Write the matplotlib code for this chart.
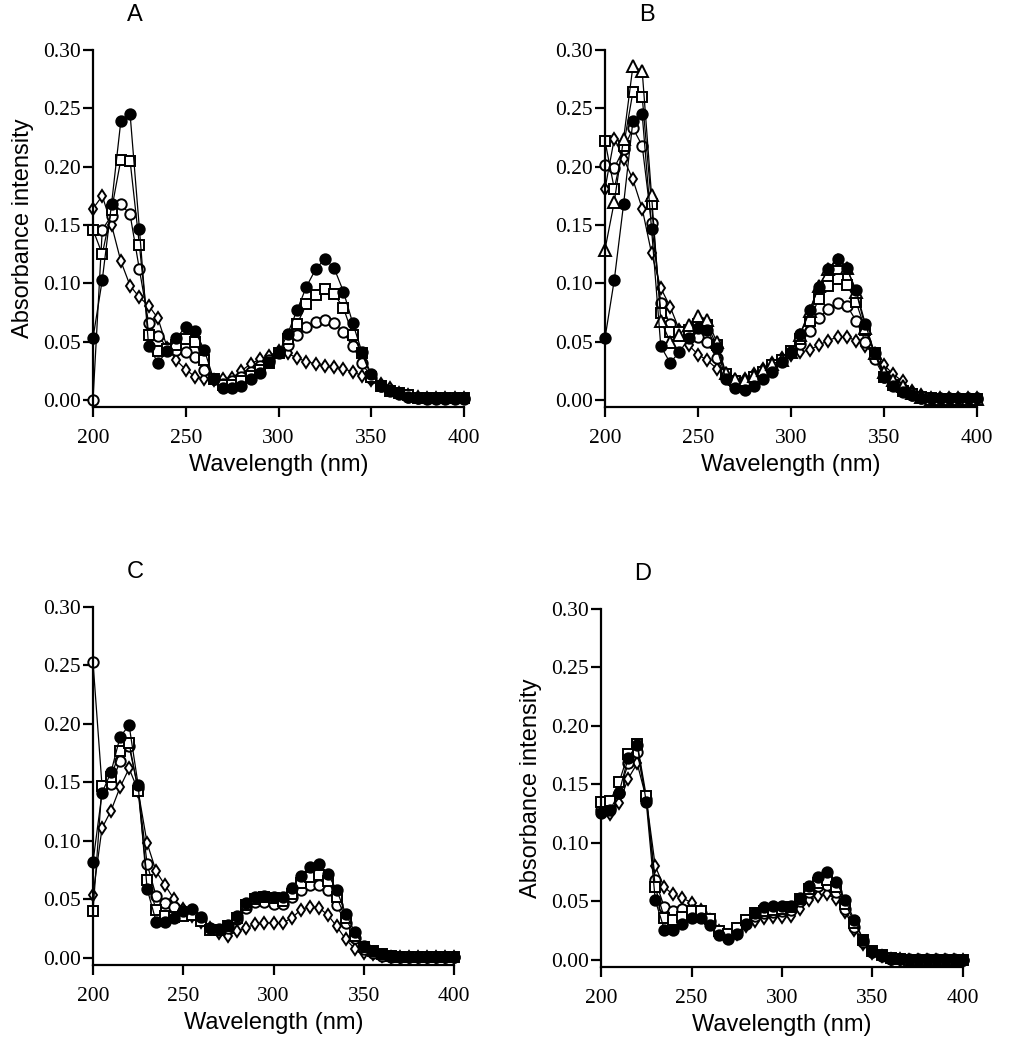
import matplotlib
matplotlib.use("Agg")
import matplotlib.pyplot as plt
import numpy as np

# длины волн, нм
wl = np.arange(200, 405, 5)

# ---- Panel A ----
A_filled = [0.053, 0.103, 0.168, 0.239, 0.245, 0.147, 0.046, 0.032, 0.042, 0.053,
            0.063, 0.059, 0.043, 0.018, 0.010, 0.010, 0.012, 0.018, 0.023, 0.033,
            0.040, 0.057, 0.077, 0.097, 0.112, 0.121, 0.113, 0.093, 0.066, 0.041,
            0.022, 0.012, 0.009, 0.006, 0.003, 0.002, 0.002, 0.002, 0.002, 0.002,
            0.002]
A_square = [0.146, 0.125, 0.163, 0.206, 0.205, 0.133, 0.056, 0.042, 0.044, 0.047,
            0.052, 0.050, 0.034, 0.018, 0.013, 0.013, 0.016, 0.021, 0.026, 0.032,
            0.040, 0.052, 0.065, 0.082, 0.090, 0.095, 0.091, 0.079, 0.056, 0.040,
            0.020, 0.012, 0.008, 0.006, 0.004, 0.002, 0.002, 0.002, 0.002, 0.002,
            0.002]
A_circle = [0.000, 0.146, 0.158, 0.168, 0.159, 0.112, 0.066, 0.055, 0.045, 0.043,
            0.041, 0.037, 0.026, 0.018, 0.014, 0.016, 0.020, 0.024, 0.029, 0.034,
            0.041, 0.047, 0.056, 0.063, 0.067, 0.069, 0.066, 0.058, 0.046, 0.032,
            0.019, 0.012, 0.008, 0.005, 0.003, 0.002, 0.001, 0.001, 0.001, 0.001,
            0.001]
A_diamond = [0.164, 0.175, 0.150, 0.119, 0.098, 0.088, 0.081, 0.070, 0.045, 0.034,
             0.026, 0.020, 0.018, 0.017, 0.018, 0.019, 0.025, 0.031, 0.035, 0.038,
             0.042, 0.040, 0.036, 0.033, 0.031, 0.029, 0.028, 0.027, 0.024, 0.021,
             0.017, 0.014, 0.010, 0.006, 0.004, 0.003, 0.002, 0.002, 0.002, 0.002,
             0.002]

# ---- Panel B ----
B_filled = [0.053, 0.103, 0.168, 0.239, 0.245, 0.147, 0.046, 0.032, 0.041, 0.053,
            0.062, 0.060, 0.045, 0.018, 0.010, 0.009, 0.012, 0.018, 0.024, 0.033,
            0.041, 0.057, 0.077, 0.097, 0.112, 0.121, 0.113, 0.094, 0.065, 0.040,
            0.020, 0.012, 0.007, 0.004, 0.002, 0.002, 0.002, 0.002, 0.002, 0.002,
            0.002]
B_square = [0.222, 0.181, 0.218, 0.264, 0.260, 0.168, 0.075, 0.058, 0.058, 0.060,
            0.065, 0.064, 0.047, 0.022, 0.016, 0.015, 0.020, 0.024, 0.030, 0.034,
            0.042, 0.052, 0.068, 0.087, 0.098, 0.104, 0.099, 0.084, 0.060, 0.040,
            0.020, 0.013, 0.008, 0.005, 0.003, 0.002, 0.001, 0.001, 0.001, 0.001,
            0.001]
B_circle = [0.201, 0.199, 0.215, 0.233, 0.218, 0.152, 0.083, 0.065, 0.058, 0.055,
            0.054, 0.050, 0.036, 0.020, 0.015, 0.015, 0.020, 0.024, 0.030, 0.034,
            0.041, 0.048, 0.059, 0.070, 0.078, 0.083, 0.081, 0.068, 0.050, 0.035,
            0.020, 0.013, 0.008, 0.004, 0.002, 0.001, 0.001, 0.001, 0.001, 0.001,
            0.001]
B_diamond = [0.181, 0.224, 0.207, 0.189, 0.164, 0.126, 0.096, 0.080, 0.060, 0.047,
             0.039, 0.034, 0.027, 0.022, 0.017, 0.018, 0.022, 0.027, 0.032, 0.036,
             0.039, 0.041, 0.043, 0.047, 0.051, 0.054, 0.054, 0.051, 0.046, 0.039,
             0.030, 0.022, 0.016, 0.008, 0.004, 0.002, 0.002, 0.002, 0.002, 0.002,
             0.002]
B_triangle = [0.129, 0.170, 0.224, 0.286, 0.282, 0.176, 0.068, 0.050, 0.056, 0.064,
              0.072, 0.069, 0.050, 0.023, 0.018, 0.017, 0.021, 0.026, 0.031, 0.034,
              0.041, 0.056, 0.076, 0.098, 0.112, 0.120, 0.113, 0.093, 0.062, 0.040,
              0.024, 0.017, 0.012, 0.006, 0.003, 0.001, 0.001, 0.001, 0.001, 0.001,
              0.001]

# ---- Panel C ----
C_filled = [0.082, 0.141, 0.159, 0.189, 0.199, 0.148, 0.059, 0.031, 0.031, 0.034,
            0.040, 0.042, 0.035, 0.026, 0.025, 0.028, 0.036, 0.047, 0.052, 0.053,
            0.052, 0.052, 0.060, 0.070, 0.078, 0.080, 0.072, 0.058, 0.038, 0.022,
            0.010, 0.006, 0.003, 0.002, 0.001, 0.001, 0.001, 0.001, 0.001, 0.001,
            0.001]
C_square = [0.040, 0.147, 0.155, 0.177, 0.184, 0.143, 0.067, 0.041, 0.036, 0.035,
            0.036, 0.037, 0.032, 0.024, 0.024, 0.027, 0.034, 0.045, 0.050, 0.052,
            0.051, 0.049, 0.055, 0.064, 0.069, 0.071, 0.066, 0.052, 0.034, 0.019,
            0.009, 0.006, 0.003, 0.002, 0.001, 0.001, 0.001, 0.001, 0.001, 0.001,
            0.001]
C_circle = [0.253, 0.147, 0.149, 0.168, 0.181, 0.145, 0.080, 0.053, 0.047, 0.044,
            0.040, 0.038, 0.033, 0.025, 0.024, 0.026, 0.033, 0.043, 0.048, 0.048,
            0.046, 0.046, 0.052, 0.058, 0.062, 0.062, 0.058, 0.045, 0.030, 0.017,
            0.008, 0.004, 0.002, 0.001, 0.001, 0.001, 0.001, 0.001, 0.001, 0.001,
            0.001]
C_diamond = [0.054, 0.111, 0.126, 0.146, 0.162, 0.143, 0.098, 0.074, 0.062, 0.050,
             0.042, 0.036, 0.031, 0.026, 0.021, 0.019, 0.023, 0.026, 0.029, 0.030,
             0.030, 0.030, 0.034, 0.041, 0.044, 0.043, 0.037, 0.027, 0.016, 0.008,
             0.004, 0.003, 0.002, 0.001, 0.001, 0.001, 0.001, 0.001, 0.001, 0.001,
             0.001]

# ---- Panel D ----
D_filled = [0.126, 0.128, 0.143, 0.173, 0.184, 0.135, 0.051, 0.026, 0.026, 0.031,
            0.036, 0.036, 0.030, 0.021, 0.018, 0.022, 0.031, 0.040, 0.045, 0.046,
            0.046, 0.046, 0.053, 0.063, 0.071, 0.075, 0.067, 0.051, 0.034, 0.017,
            0.008, 0.004, 0.001, 0.001, 0.001, 0.001, 0.001, 0.001, 0.001, 0.001,
            0.000]
D_square = [0.135, 0.136, 0.152, 0.176, 0.185, 0.140, 0.062, 0.036, 0.034, 0.037,
            0.042, 0.042, 0.035, 0.025, 0.022, 0.027, 0.034, 0.040, 0.042, 0.043,
            0.044, 0.045, 0.052, 0.061, 0.066, 0.068, 0.062, 0.048, 0.032, 0.017,
            0.008, 0.004, 0.002, 0.001, 0.000, 0.000, 0.000, 0.000, 0.000, 0.000,
            0.000]
D_circle = [0.128, 0.130, 0.143, 0.168, 0.178, 0.138, 0.068, 0.045, 0.042, 0.044,
            0.043, 0.040, 0.033, 0.024, 0.021, 0.025, 0.032, 0.038, 0.040, 0.041,
            0.042, 0.043, 0.050, 0.058, 0.063, 0.064, 0.058, 0.044, 0.028, 0.015,
            0.007, 0.003, 0.001, 0.001, 0.000, 0.000, 0.000, 0.000, 0.000, 0.000,
            0.000]
D_diamond = [0.128, 0.125, 0.134, 0.155, 0.168, 0.138, 0.080, 0.062, 0.056, 0.053,
             0.049, 0.043, 0.034, 0.025, 0.020, 0.022, 0.029, 0.033, 0.036, 0.037,
             0.037, 0.038, 0.044, 0.051, 0.055, 0.056, 0.052, 0.041, 0.026, 0.014,
             0.006, 0.003, 0.001, 0.001, 0.000, 0.000, 0.000, 0.000, 0.000, 0.000,
             0.000]

# стили маркеров
styles = {
    'diamond': dict(marker='d', ms=6, mfc='white'),
    'circle': dict(marker='o', ms=7.5, mfc='white'),
    'square': dict(marker='s', ms=7.5, mfc='white'),
    'triangle': dict(marker='^', ms=8, mfc='white'),
    'filled': dict(marker='o', ms=7.5, mfc='black'),
}

panels = [
    ('A', [93, 50, 464, 407], {'diamond': A_diamond, 'circle': A_circle,
                               'square': A_square, 'filled': A_filled}, True),
    ('B', [605, 50, 977, 407], {'diamond': B_diamond, 'circle': B_circle,
                                'square': B_square, 'triangle': B_triangle,
                                'filled': B_filled}, False),
    ('C', [93, 607, 454, 965], {'diamond': C_diamond, 'circle': C_circle,
                                'square': C_square, 'filled': C_filled}, False),
    ('D', [601, 609, 963, 967], {'diamond': D_diamond, 'circle': D_circle,
                                 'square': D_square, 'filled': D_filled}, True),
]

W, H = 1011, 1050
fig = plt.figure(figsize=(W / 100, H / 100), dpi=100)

sans = 'Liberation Sans'
serif = 'Liberation Serif'

for name, (x0, ytop, x1, ybot), series, ylab in panels:
    ax = fig.add_axes([x0 / W, 1 - ybot / H, (x1 - x0) / W, (ybot - ytop) / H])
    for key, vals in series.items():
        ax.plot(wl, vals, color='black', lw=0.9, mec='black', mew=1.4,
                clip_on=False, **styles[key])
    ax.set_xlim(200, 400)
    ax.set_ylim(-0.006, 0.30)
    ax.set_xticks([200, 250, 300, 350, 400])
    ax.set_yticks([0.0, 0.05, 0.10, 0.15, 0.20, 0.25, 0.30])
    ax.set_yticklabels(['0.00', '0.05', '0.10', '0.15', '0.20', '0.25', '0.30'])
    for s in ['top', 'right']:
        ax.spines[s].set_visible(False)
    for s in ['left', 'bottom']:
        ax.spines[s].set_linewidth(1.6)
    ax.tick_params(width=1.6, length=7, labelsize=15.5, direction='out')
    ax.tick_params(axis='x', pad=9)
    ax.tick_params(axis='y', pad=2)
    for lab in ax.get_xticklabels() + ax.get_yticklabels():
        lab.set_fontfamily(serif)
    ax.set_xlabel('Wavelength (nm)', fontsize=17, family=sans, labelpad=4)
    if ylab:
        ax.set_ylabel('Absorbance intensity', fontsize=17, family=sans, labelpad=6)
    fig.text((x0 + 42) / W, 1 - (ytop - 35) / H, name, fontsize=17,
             family=sans, ha='center', va='center')

fig.savefig('out.png', dpi=100)
